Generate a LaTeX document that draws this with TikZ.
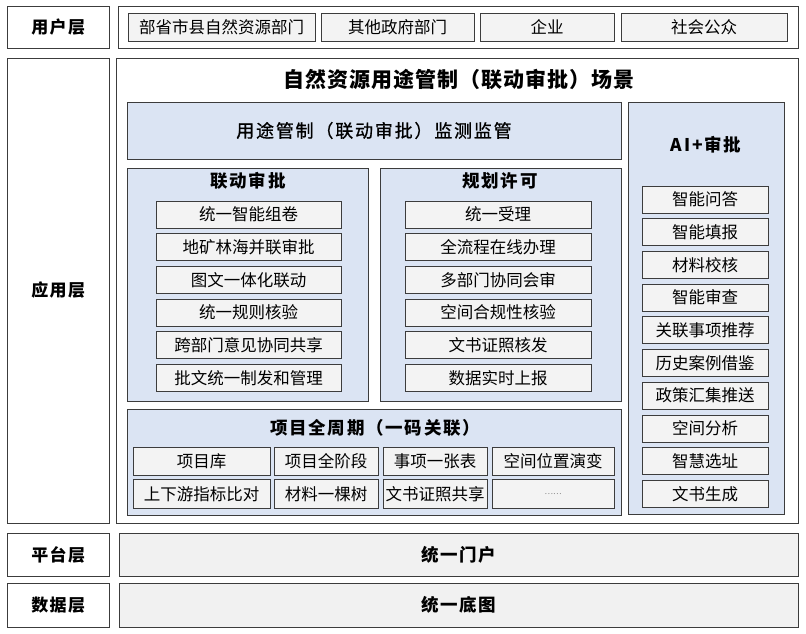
\documentclass[tikz,border=0pt]{standalone}
\usepackage{fontspec}
\setmainfont{Noto Sans CJK SC}
\usetikzlibrary{positioning}
\definecolor{framegray}{RGB}{60,60,60}
\definecolor{panelblue}{RGB}{219,228,243}
\definecolor{itemgray}{RGB}{243,243,243}
\definecolor{bargray}{RGB}{241,241,241}

\begin{document}
\begin{tikzpicture}[
  x=1pt, y=-1pt,
  node distance=5pt and 4pt,
  layerlbl/.style={draw=framegray, line width=0.8pt, fill=white, inner sep=0pt,
              font=\fontsize{17}{20}\selectfont\bfseries\addfontfeatures{LetterSpace=8},
              minimum width=101.5pt},
  frame/.style={draw=framegray, line width=0.8pt, fill=white, inner sep=0pt},
  panel/.style={draw=framegray, line width=0.8pt, fill=panelblue, inner sep=0pt},
  item/.style={draw=framegray, line width=0.7pt, fill=itemgray, inner sep=0pt,
              font=\fontsize{16.5}{18}\selectfont, minimum height=27pt},
  bar/.style={draw=framegray, line width=0.8pt, fill=bargray, inner sep=0pt,
              font=\fontsize{17.5}{20}\selectfont\bfseries\addfontfeatures{LetterSpace=8},
              minimum width=679pt},
  ptitle/.style={font=\fontsize{17.5}{20}\selectfont\bfseries\addfontfeatures{LetterSpace=10}},
  linkitem/.style={item, minimum width=185pt},
  planitem/.style={item, minimum width=186pt},
  aiitem/.style={item, minimum width=126pt},
]
\useasboundingbox (0,0) rectangle (806,633);

% ── Layer labels ─────────────────────────────────────────────
\node[layerlbl, minimum height=42pt] (userlbl) at (58.25,27) {用户层};
\node[layerlbl, minimum height=465pt] (applbl) at (58.25,290.5) {应用层};
\node[layerlbl, minimum height=43pt] (platlbl) at (58.25,554.5) {平台层};
\node[layerlbl, minimum height=44pt] (datalbl) at (58.25,605) {数据层};

% ── User layer ───────────────────────────────────────────────
\node[frame, minimum width=680pt, minimum height=42pt] (userrow) at (458,27) {};
\node[item, minimum width=187pt, minimum height=28pt] (gov) at (221.5,27) {部省市县自然资源部门};
\node[item, minimum width=153pt, minimum height=28pt] (othergov) at (397.5,27) {其他政府部门};
\node[item, minimum width=134pt, minimum height=28pt] (firm) at (547,27) {企业};
\node[item, minimum width=166pt, minimum height=28pt] (public) at (704,27) {社会公众};

% ── Application layer ────────────────────────────────────────
\node[frame, minimum width=682pt, minimum height=465pt] (appframe) at (457,290.5) {};
\node[font=\fontsize{21}{24}\selectfont\bfseries\addfontfeatures{LetterSpace=5}]
  (scenetitle) at (459,79) {自然资源用途管制（联动审批）场景};

\node[panel, minimum width=494pt, minimum height=57pt,
      font=\fontsize{18}{20}\selectfont\addfontfeatures{LetterSpace=10,FakeBold=0.8}]
  (monitor) at (374,130.5) {用途管制（联动审批）监测监管};

% linked approval
\node[panel, minimum width=241pt, minimum height=233pt] (linkpanel) at (247.5,284.5) {};
\node[ptitle] (linktitle) at (248,181) {联动审批};
\node[linkitem] (lk1) at (248.5,214.5) {统一智能组卷};
\node[linkitem, below=of lk1] (lk2) {地矿林海并联审批};
\node[linkitem, below=of lk2] (lk3) {图文一体化联动};
\node[linkitem, below=of lk3] (lk4) {统一规则核验};
\node[linkitem, below=of lk4] (lk5) {跨部门意见协同共享};
\node[linkitem, below=of lk5] (lk6) {批文统一制发和管理};

% planning permit
\node[panel, minimum width=241pt, minimum height=233pt] (planpanel) at (500.5,284.5) {};
\node[ptitle] (plantitle) at (500,181) {规划许可};
\node[planitem] (pl1) at (498,214.5) {统一受理};
\node[planitem, below=of pl1] (pl2) {全流程在线办理};
\node[planitem, below=of pl2] (pl3) {多部门协同会审};
\node[planitem, below=of pl3] (pl4) {空间合规性核验};
\node[planitem, below=of pl4] (pl5) {文书证照核发};
\node[planitem, below=of pl5] (pl6) {数据实时上报};

% project life cycle
\node[panel, minimum width=494pt, minimum height=106pt] (projpanel) at (374,462) {};
\node[ptitle] (projtitle) at (375,428) {项目全周期（一码关联）};
\node[item, minimum width=137pt, minimum height=28pt] (pj1) at (201.5,461) {项目库};
\node[item, minimum width=104pt, minimum height=28pt] (pj2) at (326,461) {项目全阶段};
\node[item, minimum width=104pt, minimum height=28pt] (pj3) at (435,461) {事项一张表};
\node[item, minimum width=122pt, minimum height=28pt] (pj4) at (553,461) {空间位置演变};
\node[item, minimum width=137pt, minimum height=29pt, below=4pt of pj1] (pj5) {上下游指标比对};
\node[item, minimum width=104pt, minimum height=29pt, below=4pt of pj2] (pj6) {材料一棵树};
\node[item, minimum width=104pt, minimum height=29pt, below=4pt of pj3] (pj7) {文书证照共享};
\node[item, minimum width=122pt, minimum height=29pt, below=4pt of pj4,
      font=\fontsize{8}{9}\selectfont, text=gray] (pj8) {……};

% AI approval
\node[panel, minimum width=156pt, minimum height=412pt] (aipanel) at (706,308) {};
\node[ptitle] (aititle) at (706,145) {AI+审批};
\node[aiitem] (ai1) at (705,199.5) {智能问答};
\node[aiitem, below=of ai1] (ai2) {智能填报};
\node[aiitem, below=of ai2] (ai3) {材料校核};
\node[aiitem, below=of ai3] (ai4) {智能审查};
\node[aiitem, below=of ai4] (ai5) {关联事项推荐};
\node[aiitem, below=of ai5] (ai6) {历史案例借鉴};
\node[aiitem, below=of ai6] (ai7) {政策汇集推送};
\node[aiitem, below=of ai7] (ai8) {空间分析};
\node[aiitem, below=of ai8] (ai9) {智慧选址};
\node[aiitem, below=of ai9] (ai10) {文书生成};

% ── Platform and data layers ─────────────────────────────────
\node[bar, minimum height=43pt] (portal) at (458.5,554.5) {统一门户};
\node[bar, minimum height=44pt] (basemap) at (458.5,605) {统一底图};

\end{tikzpicture}
\end{document}
